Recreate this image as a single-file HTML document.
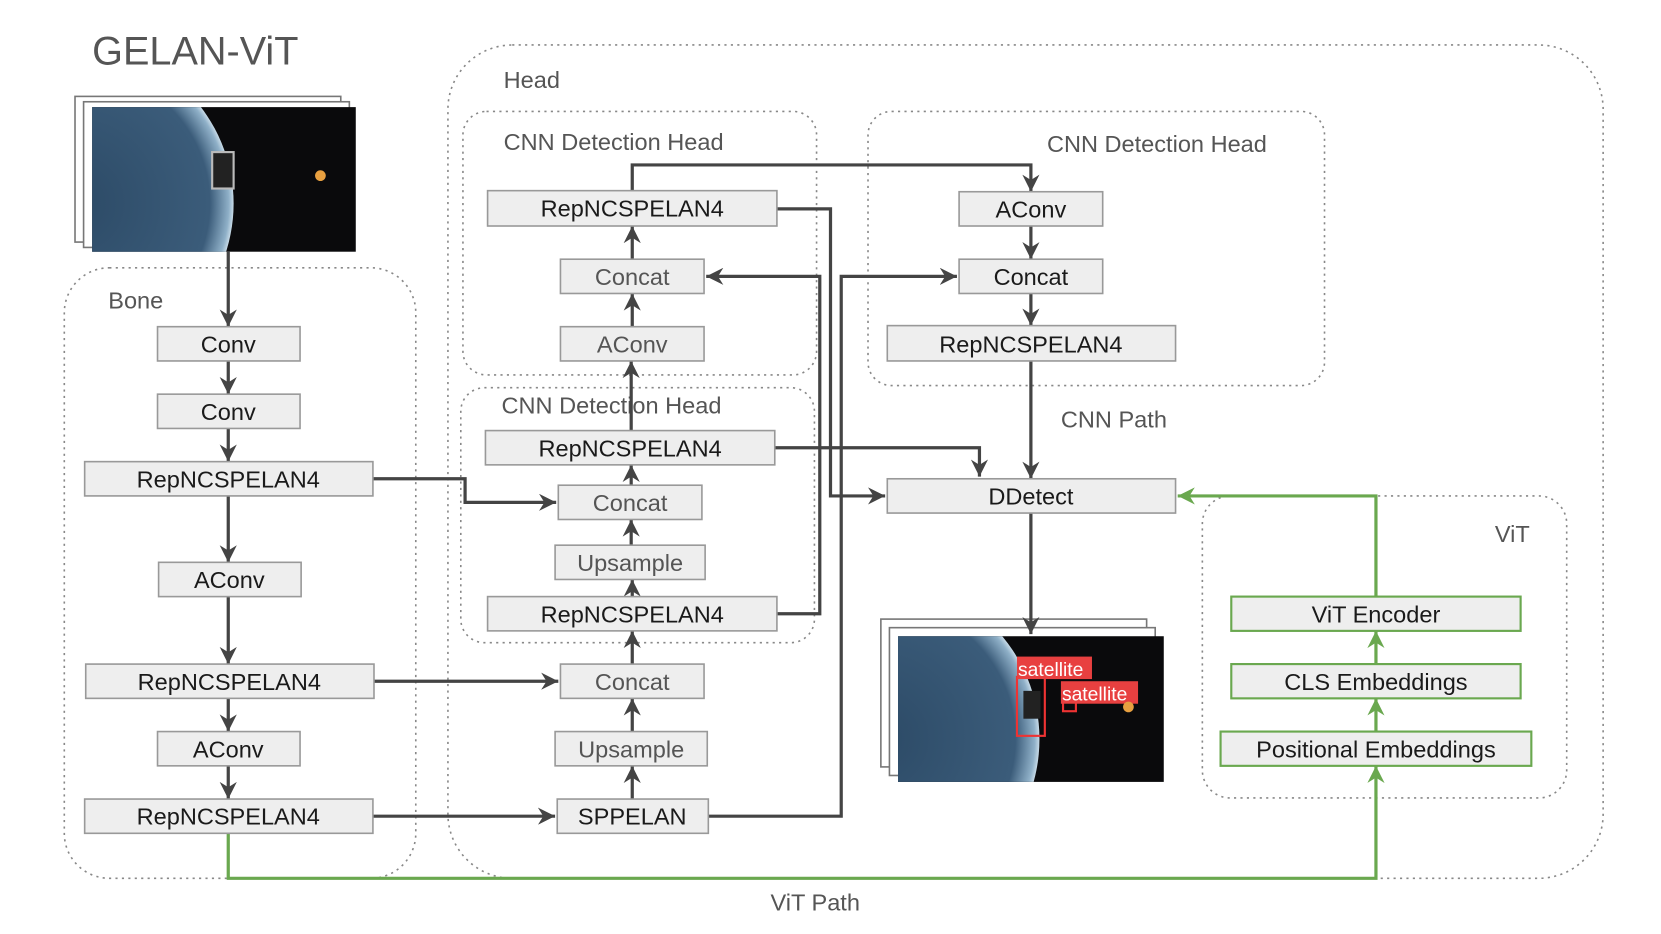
<!DOCTYPE html>
<html><head><meta charset="utf-8"><style>
html,body{margin:0;padding:0;background:#fff;}
svg{display:block;}
text{font-family:"Liberation Sans",sans-serif;}
</style></head><body>
<svg width="1661" height="934" viewBox="0 0 1550 872" preserveAspectRatio="none" xmlns="http://www.w3.org/2000/svg">
<defs>
<marker id="ad" markerUnits="userSpaceOnUse" markerWidth="18" markerHeight="16" refX="16" refY="8" orient="auto"><path d="M0,0 L16,8 L0,16 L5,8 Z" fill="#444"/></marker>
<marker id="ag" markerUnits="userSpaceOnUse" markerWidth="18" markerHeight="16" refX="16" refY="8" orient="auto"><path d="M0,0 L16,8 L0,16 L5,8 Z" fill="#6aa84f"/></marker>
<radialGradient id="pg" cx="0.5" cy="0.5" r="0.5"><stop offset="0" stop-color="#2c4a66"/><stop offset="0.85" stop-color="#3b5c7a"/><stop offset="0.97" stop-color="#8fb0c8"/><stop offset="1" stop-color="#c8dbe8"/></radialGradient>
<clipPath id="c1"><rect x="86" y="100" width="246" height="135"/></clipPath>
<clipPath id="c2"><rect x="838" y="594" width="248" height="136"/></clipPath>
</defs>
<rect width="1550" height="872" fill="#fff"/>
<text x="86" y="60" font-size="37" fill="#555">GELAN-ViT</text>

<!-- input image -->
<rect x="70" y="90" width="248" height="136" fill="#fff" stroke="#777" stroke-width="1.5"/>
<rect x="78" y="95" width="248" height="136" fill="#fff" stroke="#777" stroke-width="1.5"/>
<rect x="86" y="100" width="246" height="135" fill="#0a0a0c"/>
<circle cx="70" cy="190" r="148" fill="url(#pg)" clip-path="url(#c1)"/>
<rect x="198" y="142" width="20" height="34" fill="#222" stroke="#bbb" stroke-width="2"/>
<circle cx="299" cy="164" r="5" fill="#e8a040"/>

<!-- group boxes -->
<g fill="none" stroke="#888" stroke-width="1.5" stroke-dasharray="2,4">
<rect x="60" y="250" width="328" height="570" rx="42"/>
<rect x="418" y="42" width="1078" height="778" rx="60"/>
<rect x="432" y="104" width="330" height="246" rx="22"/>
<rect x="810" y="104" width="426" height="256" rx="22"/>
<rect x="430" y="362" width="330" height="238" rx="22"/>
<rect x="1122" y="463" width="340" height="282" rx="26"/>
</g>
<g font-size="22" fill="#555">
<text x="101" y="288">Bone</text>
<text x="470" y="82">Head</text>
<text x="470" y="140">CNN Detection Head</text>
<text x="977" y="142">CNN Detection Head</text>
<text x="468" y="386">CNN Detection Head</text>
<text x="1395" y="506">ViT</text>
<text x="990" y="399">CNN Path</text>
<text x="719" y="850">ViT Path</text>
</g>

<!-- output image -->
<rect x="822" y="578" width="248" height="138" fill="#fff" stroke="#777" stroke-width="1.5"/>
<rect x="830" y="586" width="248" height="138" fill="#fff" stroke="#777" stroke-width="1.5"/>
<rect x="838" y="594" width="248" height="136" fill="#0a0a0c"/>
<circle cx="820" cy="690" r="150" fill="url(#pg)" clip-path="url(#c2)"/>
<rect x="949" y="632" width="26" height="55" fill="none" stroke="#e33" stroke-width="2"/>
<rect x="955" y="645" width="16" height="26" fill="#222"/>
<rect x="949" y="613" width="70" height="21" fill="#e84040"/>
<text x="950" y="631" font-size="18" fill="#fff">satellite</text>
<rect x="992" y="654" width="12" height="10" fill="none" stroke="#e33" stroke-width="2"/>
<rect x="990" y="636" width="72" height="21" fill="#e84040"/>
<text x="991" y="654" font-size="18" fill="#fff">satellite</text>
<circle cx="1053" cy="660" r="5" fill="#e8a040"/>

<!-- dark connectors -->
<g fill="none" stroke="#444" stroke-width="3" marker-end="url(#ad)">
<path d="M213,235 V305"/>
<path d="M213,337 V368"/>
<path d="M213,400 V431"/>
<path d="M213,463 V525"/>
<path d="M213,557 V620"/>
<path d="M213,652 V683"/>
<path d="M213,715 V746"/>
<path d="M348,447 H434 V469 H519"/>
<path d="M349,636 H521"/>
<path d="M348,762 H518"/>
<path d="M590,746 V715"/>
<path d="M590,683 V652"/>
<path d="M590,620 V589"/>
<path d="M590,557 V541"/>
<path d="M589,509 V485"/>
<path d="M589,453 V434"/>
<path d="M589,402 V337"/>
<path d="M590,305 V274"/>
<path d="M590,242 V211"/>
<path d="M590,178 V154 H962 V179"/>
<path d="M725,195 H775 V463 H826"/>
<path d="M725,573 H765 V258 H659"/>
<path d="M661,762 H785 V258 H893"/>
<path d="M723,418 H914 V445"/>
<path d="M962,211 V242"/>
<path d="M962,274 V304"/>
<path d="M962,337 V447"/>
<path d="M962,479 V592"/>
</g>

<!-- green connectors -->
<g fill="none" stroke="#6aa84f" stroke-width="3" marker-end="url(#ag)">
<path d="M213,778 V820 H1284 V715"/>
<path d="M1284,683 V652"/>
<path d="M1284,620 V589"/>
<path d="M1284,557 V463 H1099"/>
</g>

<!-- nodes -->
<g stroke="#999" stroke-width="1.5" fill="#eee">
<rect x="147" y="305" width="133" height="32"/>
<rect x="147" y="368" width="133" height="32"/>
<rect x="79" y="431" width="269" height="32"/>
<rect x="148" y="525" width="133" height="32"/>
<rect x="80" y="620" width="269" height="32"/>
<rect x="147" y="683" width="133" height="32"/>
<rect x="79" y="746" width="269" height="32"/>
<rect x="455" y="178" width="270" height="33"/>
<rect x="523" y="242" width="134" height="32"/>
<rect x="523" y="305" width="134" height="32"/>
<rect x="453" y="402" width="270" height="32"/>
<rect x="521" y="453" width="134" height="32"/>
<rect x="518" y="509" width="140" height="32"/>
<rect x="455" y="557" width="270" height="32"/>
<rect x="523" y="620" width="134" height="32"/>
<rect x="518" y="683" width="142" height="32"/>
<rect x="520" y="746" width="141" height="32"/>
<rect x="895" y="179" width="134" height="32"/>
<rect x="895" y="242" width="134" height="32"/>
<rect x="828" y="304" width="269" height="33"/>
<rect x="828" y="447" width="269" height="32"/>
</g>
<g stroke="#6aa84f" stroke-width="2" fill="#eee">
<rect x="1149" y="557" width="270" height="32"/>
<rect x="1149" y="620" width="270" height="32"/>
<rect x="1139" y="683" width="290" height="32"/>
</g>
<g font-size="22" fill="#1a1a1a" text-anchor="middle">
<text x="213" y="329">Conv</text>
<text x="213" y="392">Conv</text>
<text x="213" y="455">RepNCSPELAN4</text>
<text x="214" y="549">AConv</text>
<text x="214" y="644">RepNCSPELAN4</text>
<text x="213" y="707">AConv</text>
<text x="213" y="770">RepNCSPELAN4</text>
<text x="590" y="202">RepNCSPELAN4</text>
<text x="588" y="426">RepNCSPELAN4</text>
<text x="590" y="581">RepNCSPELAN4</text>
<text x="590" y="770">SPPELAN</text>
<text x="962" y="203">AConv</text>
<text x="962" y="266">Concat</text>
<text x="962" y="329">RepNCSPELAN4</text>
<text x="962" y="471">DDetect</text>
<text x="1284" y="581">ViT Encoder</text>
<text x="1284" y="644">CLS Embeddings</text>
<text x="1284" y="707">Positional Embeddings</text>
</g>
<g font-size="22" fill="#555" text-anchor="middle">
<text x="590" y="266">Concat</text>
<text x="590" y="329">AConv</text>
<text x="588" y="477">Concat</text>
<text x="588" y="533">Upsample</text>
<text x="590" y="644">Concat</text>
<text x="589" y="707">Upsample</text>
</g>
</svg>
</body></html>
